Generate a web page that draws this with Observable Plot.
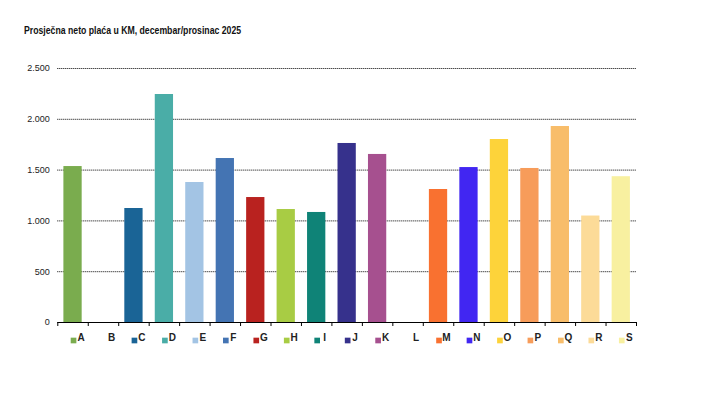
<!DOCTYPE html>
<html>
<head>
<meta charset="utf-8">
<script src="https://cdn.jsdelivr.net/npm/d3@7"></script>
<script src="https://cdn.jsdelivr.net/npm/@observablehq/plot@0.6"></script>
<style>
  html, body { margin: 0; padding: 0; background: #fff; }
  #wrap { position: relative; width: 724px; height: 398px; }
  #title { position: absolute; left: 24px; top: 25px; font: bold 10px "Liberation Sans", Arial, sans-serif; color: #111; white-space: nowrap; line-height: 12px; transform: scaleX(0.87); transform-origin: 0 0; z-index: 2; }
</style>
</head>
<body>
<div id="wrap"><div id="title">Prosječna neto plaća u KM, decembar/prosinac 2025</div></div>
<script>
const categories = ["A","B","C","D","E","F","G","H","I","J","K","L","M","N","O","P","Q","R","S"];
const values = [1535, null, 1122, 2244, 1378, 1614, 1230, 1112, 1083, 1762, 1654, null, 1309, 1525, 1801, 1516, 1929, 1048, 1435];
const colors = ["#7aac4e","#ffffff","#1a6496","#4aada7","#a3c4e4","#4474b3","#b9221f","#a8cc44","#0f8377","#36318c","#a6508f","#ffffff","#f97130","#4126f2","#fdd33a","#f79c5a","#f8bd6a","#fcdb98","#f8f0a0"];
const yTicks = [0, 500, 1000, 1500, 2000, 2500];

const data = categories.map((c, i) => ({cat: c, value: values[i]}));
const present = data.filter(d => d.value != null);
const fmt = d3.formatLocale({decimal: ",", thousands: ".", grouping: [3], currency: ["", ""]}).format(",");

const W = 724, H = 398, mL = 57.3, mR = 88, mT = 68, mB = 76;
const step = (W - mL - mR) / categories.length;

const chart = Plot.plot({
  width: W, height: H,
  marginLeft: mL, marginRight: mR, marginTop: mT, marginBottom: mB,
  style: {fontFamily: '"Liberation Sans", Arial, sans-serif', fontSize: "9px", color: "#222", background: "transparent"},
  x: {domain: categories, paddingInner: 0.4, paddingOuter: 0.2, round: false, axis: null, label: null},
  y: {domain: [0, 2500], ticks: yTicks, tickFormat: fmt, tickSize: 0, tickPadding: 8, label: null},
  color: {domain: categories, range: colors},
  marks: [
    Plot.gridY(yTicks.filter(d => d > 0), {stroke: "#000", strokeOpacity: 1, strokeDasharray: "1,1", strokeWidth: 1}),
    Plot.barY(present, {x: "cat", y: "value", fill: "cat"}),
    Plot.ruleY([0], {stroke: "#000", strokeWidth: 1}),
    Plot.axisX(categories, {tickSize: 4, tickFormat: () => "", dx: -step / 2, stroke: "#000", label: null}),
    Plot.axisX(categories.slice(-1), {tickSize: 4, tickFormat: () => "", dx: step / 2, stroke: "#000", label: null}),
    Plot.dot(present, {x: "cat", frameAnchor: "bottom", dy: 18, dx: 0.5, symbol: "square", r: 3.2, fill: "cat", stroke: null}),
    Plot.text(categories, {x: d => d, text: d => d, frameAnchor: "bottom", dy: 18, dx: 8, fontWeight: "bold", fontSize: 10, fontFamily: '"Liberation Sans", Arial, sans-serif', fill: "#222"})
  ]
});
document.getElementById("wrap").prepend(chart);
chart.style.position = "absolute";
chart.style.left = "0";
chart.style.top = "0";
</script>
</body>
</html>
